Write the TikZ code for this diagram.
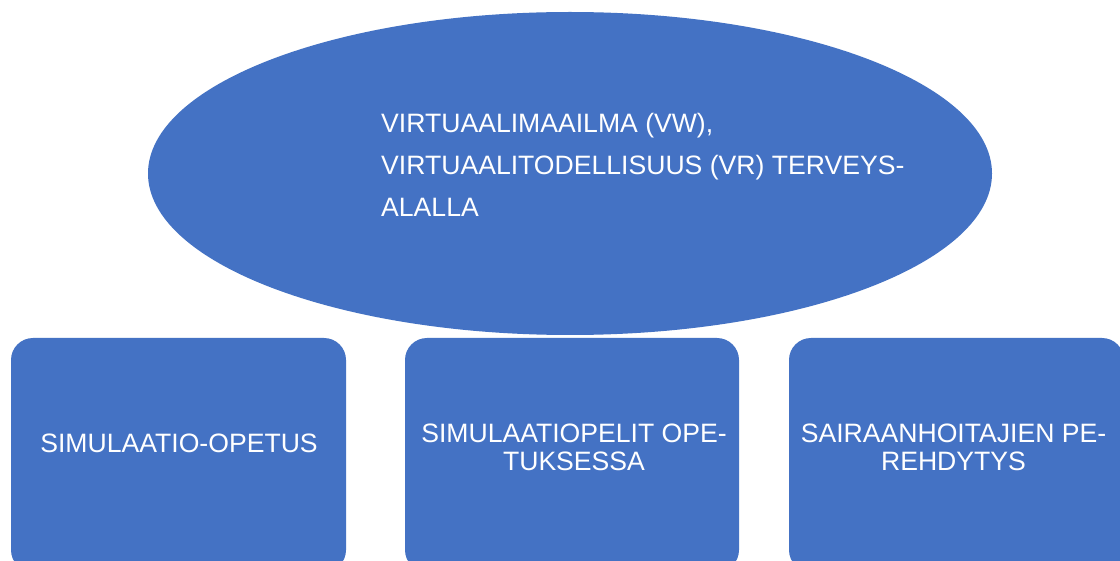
\documentclass[tikz,border=0pt]{standalone}
\usepackage{fontspec}
\setmainfont{Liberation Sans}
\usetikzlibrary{shapes.geometric}
\definecolor{topicblue}{HTML}{4472C4}
\tikzset{
  every picture/.style={x=1pt,y=-1pt},
  bubble/.style={ellipse,fill=topicblue,draw=none,minimum width=844pt,minimum height=323pt,inner sep=0pt},
  panel/.style={fill=topicblue,draw=none,rounded corners=22pt},
  label/.style={text=white,font=\fontsize{26.6}{27.3}\selectfont,inner sep=0pt,align=center},
  biglabel/.style={text=white,font=\fontsize{26.6}{42}\selectfont,inner sep=0pt,align=left}
}
\begin{document}
\begin{tikzpicture}
  \clip (0,0) rectangle (1120,561);
  \fill[white] (0,0) rectangle (1120,561);
  % central topic
  \node[bubble] (topic) at (570,173.5) {};
  \node[biglabel,anchor=base west] (topictext) at (381,217)
    {VIRTUAALIMAAILMA (VW),\\VIRTUAALITODELLISUUS (VR) TERVEYS-\\ALALLA};
  % three sub-topics
  \path[panel] (11,338) rectangle (346,572);
  \path[panel] (405,338) rectangle (739,572);
  \path[panel] (789,338) rectangle (1124,572);
  \node[label,anchor=base] (simop) at (179,453) {SIMULAATIO-OPETUS};
  \node[label,anchor=base] (simpel) at (574,470) {SIMULAATIOPELIT OPE-\\TUKSESSA};
  \node[label,anchor=base] (pereh) at (953.5,470) {SAIRAANHOITAJIEN PE-\\REHDYTYS};
\end{tikzpicture}
\end{document}
